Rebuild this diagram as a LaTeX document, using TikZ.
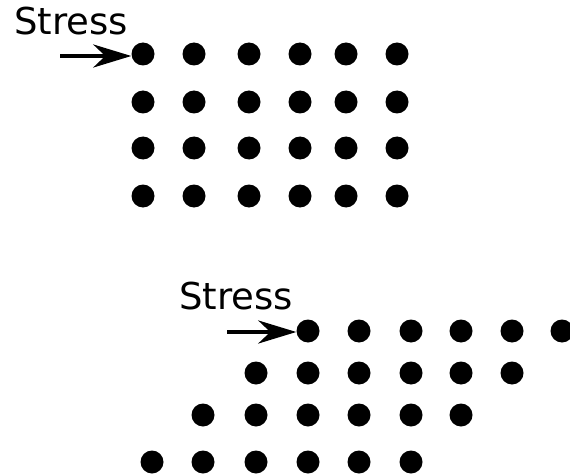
\documentclass[tikz,border=0pt]{standalone}
\usepackage{fontspec}
\setmainfont{DejaVu Sans}
\usetikzlibrary{arrows.meta}
\begin{document}
\begin{tikzpicture}[x=1pt,y=-1pt,
  dot/.style={circle,fill=black,inner sep=0pt,minimum size=23pt},
  lbl/.style={anchor=base west,inner sep=0pt,font=\fontsize{37}{40}\selectfont},
  push/.style={line width=4pt,-{Stealth[length=38pt,width=23pt,inset=12pt]}}]
\useasboundingbox (0,0) rectangle (570,476);
% top grid
\foreach \y [count=\r] in {54,102,148,196}{
  \foreach \x [count=\c] in {143,194,249,300,346,397}{
    \node[dot] (a\r\c) at (\x,\y) {};
  }
}
\node[lbl] (t1) at (14,35) {Stress};
\coordinate (s1) at (60,56);
\draw[push] (s1) -- (s1 -| a11.west);
% bottom grid
\foreach \x [count=\c] in {308,359,411,461,512,562}{\node[dot] (b1\c) at (\x,331) {};}
\foreach \x [count=\c] in {256,308,359,411,461,512}{\node[dot] (b2\c) at (\x,373) {};}
\foreach \x [count=\c] in {203,256,308,359,411,461}{\node[dot] (b3\c) at (\x,415) {};}
\foreach \x [count=\c] in {152,203,256,308,359,411}{\node[dot] (b4\c) at (\x,462) {};}
\node[lbl] (t2) at (179,309) {Stress};
\coordinate (s2) at (227,332);
\draw[push] (s2) -- (s2 -| b11.west);
\end{tikzpicture}
\end{document}
